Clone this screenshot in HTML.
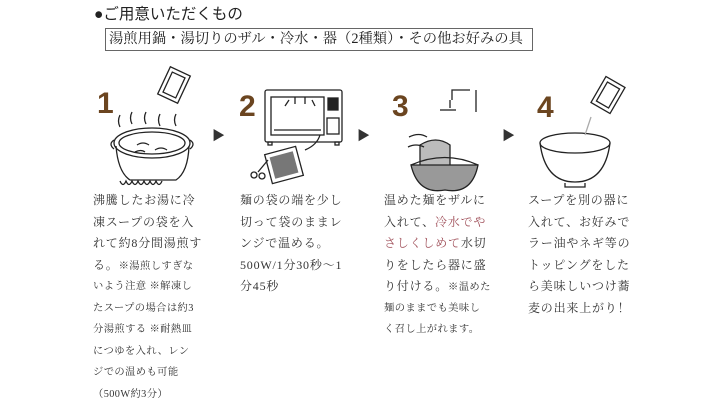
<!DOCTYPE html>
<html><head><meta charset="utf-8"><style>
body{margin:0;width:712px;height:401px;background:#fff;position:relative;overflow:hidden;font-family:"Liberation Serif","Noto Serif CJK SC",serif;color:#333}
.h{position:absolute;left:94px;top:2px;font-size:15.5px;color:#222;font-family:"Liberation Sans","Noto Sans CJK JP",sans-serif}
.box{position:absolute;left:105px;top:28px;width:423px;height:21px;border:1px solid #666;font-size:14.3px;line-height:21px;padding-left:3px;color:#222;box-sizing:content-box;white-space:nowrap}
.col{position:absolute;top:190px;font-size:12px;letter-spacing:0.8px;color:#333}
.col div{height:21.5px;line-height:21.5px;white-space:nowrap;overflow:visible}
.s{font-size:10.3px;letter-spacing:0.4px}
.r{color:#a0505a}
.arr{position:absolute;font-size:13px;color:#333}
svg{position:absolute;left:0;top:0}
</style></head><body>
<div class="h">●ご用意いただくもの</div>
<div class="box">湯煎用鍋・湯切りのザル・冷水・器（2種類）・その他お好みの具</div>
<svg width="712" height="401" fill="none" stroke="#222" stroke-width="1.3">
<g fill="#6b4520" stroke="none" font-family="Liberation Sans" font-weight="bold" font-size="30">
<text x="97" y="113">1</text><text x="239" y="116">2</text><text x="392" y="116">3</text><text x="537" y="117">4</text></g>
<ellipse cx="152" cy="143" rx="38" ry="15"/><ellipse cx="152" cy="143" rx="33" ry="11"/>
<path d="M116 146 Q118 172 130 180 L176 180 Q188 172 189 146"/>
<path d="M120 181 q3 7 6 0 q3 7 6 0 q3 7 6 0 q3 7 6 0 q3 7 6 0 q3 7 6 0 q3 7 6 0"/>
<path d="M114 140 q-6 4 0 9 M190 140 q6 4 0 9"/>
<path d="M120 115 q-3 6 0 12 M132 112 q-3 6 0 12 M146 112 q-3 6 0 12 M160 114 q-3 6 0 12 M176 114 q-3 6 0 12"/>
<path d="M137 145 q6 -4 12 0 M155 150 q6 -4 12 0 M135 152 q6 -3 10 0"/>
<rect x="163" y="70" width="22" height="30" transform="rotate(25 174 85)"/><rect x="167" y="74" width="14" height="22" transform="rotate(25 174 85)"/>
<rect x="265" y="90" width="77" height="52" rx="2"/><rect x="271" y="97" width="53" height="38"/>
<rect x="328" y="98" width="10" height="12" fill="#222"/>
<rect x="327" y="118" width="12" height="16"/>
<path d="M274 130 L321 130 M285 106 l4 -6 M295 104 l0 -7 M305 104 l0 -7 M315 106 l-3 -6"/>
<rect x="268" y="142" width="4" height="3"/><rect x="335" y="142" width="4" height="3"/>
<rect x="268" y="150" width="32" height="30" transform="rotate(-15 284 165)"/>
<rect x="272" y="154" width="24" height="22" fill="#777" stroke="none" transform="rotate(-15 284 165)"/>
<circle cx="254" cy="175" r="3"/><circle cx="262" cy="176" r="3"/><path d="M258 172 l10 -12"/>
<path d="M305 150 q12 -5 15 -15"/>
<path d="M452 100 L452 90 L470 90 M450 100 l0 8 M476 90 l0 22"/>
<path d="M440 110 l16 0"/>
<path d="M420 145 q16 -10 30 0 l0 25 q-16 6 -30 0z" fill="#bbb"/>
<path d="M408 147 q8 -4 16 0 M409 137 q10 -5 18 0"/>
<path d="M411 165 Q418 195 445 190 Q472 195 478 165 Z" fill="#999"/>
<path d="M411 165 Q445 150 478 165"/>
<ellipse cx="575" cy="143" rx="35" ry="10"/>
<path d="M540 143 Q545 182 575 182 Q605 182 610 143"/>
<path d="M565 183 l0 4 l20 0 l0 -4"/>
<path d="M585 135 l6 -18" stroke="#aaa"/>
<rect x="597" y="80" width="22" height="30" transform="rotate(30 608 95)"/><rect x="601" y="84" width="14" height="22" transform="rotate(30 608 95)"/>
</svg>
<div class="arr" style="left:212px;top:125px">▶</div>
<div class="arr" style="left:357px;top:125px">▶</div>
<div class="arr" style="left:502px;top:125px">▶</div>
<div class="col" style="left:93px"><div>沸騰したお湯に冷</div><div>凍スープの袋を入</div><div>れて約8分間湯煎す</div><div>る。<span class="s">※湯煎しすぎな</span></div><div class="s">いよう注意 ※解凍し</div><div class="s">たスープの場合は約3</div><div class="s">分湯煎する ※耐熱皿</div><div class="s">につゆを入れ、レン</div><div class="s">ジでの温めも可能</div><div class="s">（500W約3分）</div></div>
<div class="col" style="left:240px"><div>麺の袋の端を少し</div><div>切って袋のままレ</div><div>ンジで温める。</div><div>500W/1分30秒～1</div><div>分45秒</div></div>
<div class="col" style="left:384px"><div>温めた麺をザルに</div><div>入れて、<span class="r">冷水でや</span></div><div><span class="r">さしくしめて</span>水切</div><div>りをしたら器に盛</div><div>り付ける。<span class="s">※温めた</span></div><div class="s">麺のままでも美味し</div><div class="s">く召し上がれます。</div></div>
<div class="col" style="left:528px"><div>スープを別の器に</div><div>入れて、お好みで</div><div>ラー油やネギ等の</div><div>トッピングをした</div><div>ら美味しいつけ蕎</div><div>麦の出来上がり！</div></div>
</body></html>
